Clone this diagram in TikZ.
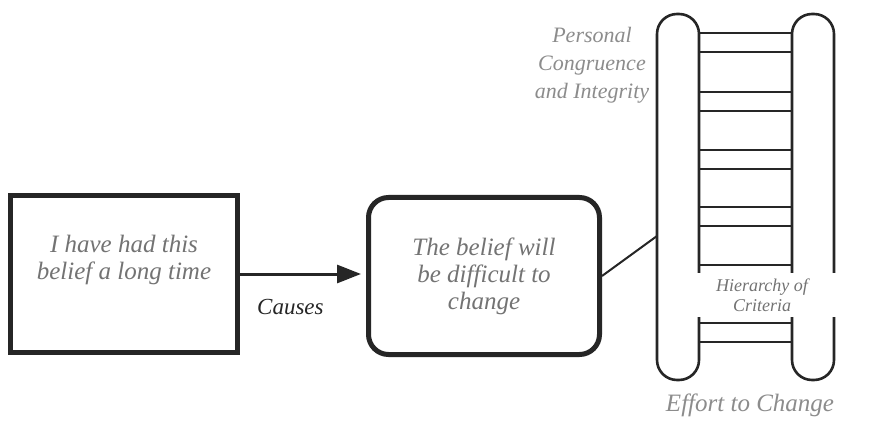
\documentclass[tikz,border=0pt]{standalone}
\usepackage{fontspec}
\setmainfont{Liberation Serif}
\usetikzlibrary{arrows.meta,positioning}

\begin{document}
\begin{tikzpicture}[
    x=1pt, y=-1pt,
    box/.style={rectangle, draw=black!85, line width=5pt, fill=white,
                text=black!55, font=\fontsize{25}{27}\selectfont\itshape,
                align=center},
    rail/.style={draw=black!85, line width=2.6pt, rounded corners=20pt},
    rung/.style={draw=black!85, line width=2.8pt},
    note/.style={text=black!45, font=\fontsize{22}{28}\selectfont\itshape,
                 align=center},
    >={Triangle[length=24pt,width=18pt]},
]
    \useasboundingbox[fill=white] (0,0) rectangle (874,430);

    % Boxes
    \node[box, minimum width=227pt, minimum height=157pt] (belief) at (124,274)
        {I have had this\\belief a long time\\[6pt]};
    \node[box, rounded corners=20pt, minimum width=231pt, minimum height=157pt]
        (difficult) at (484,276) {The belief will\\be difficult to\\change};

    % Ladder rails
    \draw[rail] (657,14) rectangle (699,380);
    \draw[rail] (792,14) rectangle (834,380);
    \coordinate (railhook) at (657,236);

    % Rungs
    \foreach \y in {33,92,150,207,265,323} {
        \draw[rung] (699,\y) -- (792,\y);
        \draw[rung] (699,\y+19) -- (792,\y+19);
    }

    % Labels
    \node[fill=white, text=black!55, font=\fontsize{18}{20}\selectfont\itshape,
          align=center, minimum width=150pt, minimum height=44pt, inner sep=0pt]
        (criteria) at (762,295) {Hierarchy of\\Criteria};
    \node[note] (integrity) at (592,65) {Personal\\Congruence\\and Integrity};
    \node[note, font=\fontsize{25}{28}\selectfont\itshape] (effort) at (750,405)
        {Effort to Change};

    % Arrows
    \draw[->, line width=3pt, draw=black!85, fill=black!85, shorten >=5pt]
        (belief.east) -- (belief.east -| difficult.west)
        node[pos=0.4, below=20pt, text=black!85, font=\fontsize{23}{24}\selectfont\itshape]
        (causes) {Causes};
    \draw[line width=2pt, draw=black!85] (difficult.east) -- (railhook);
\end{tikzpicture}
\end{document}
